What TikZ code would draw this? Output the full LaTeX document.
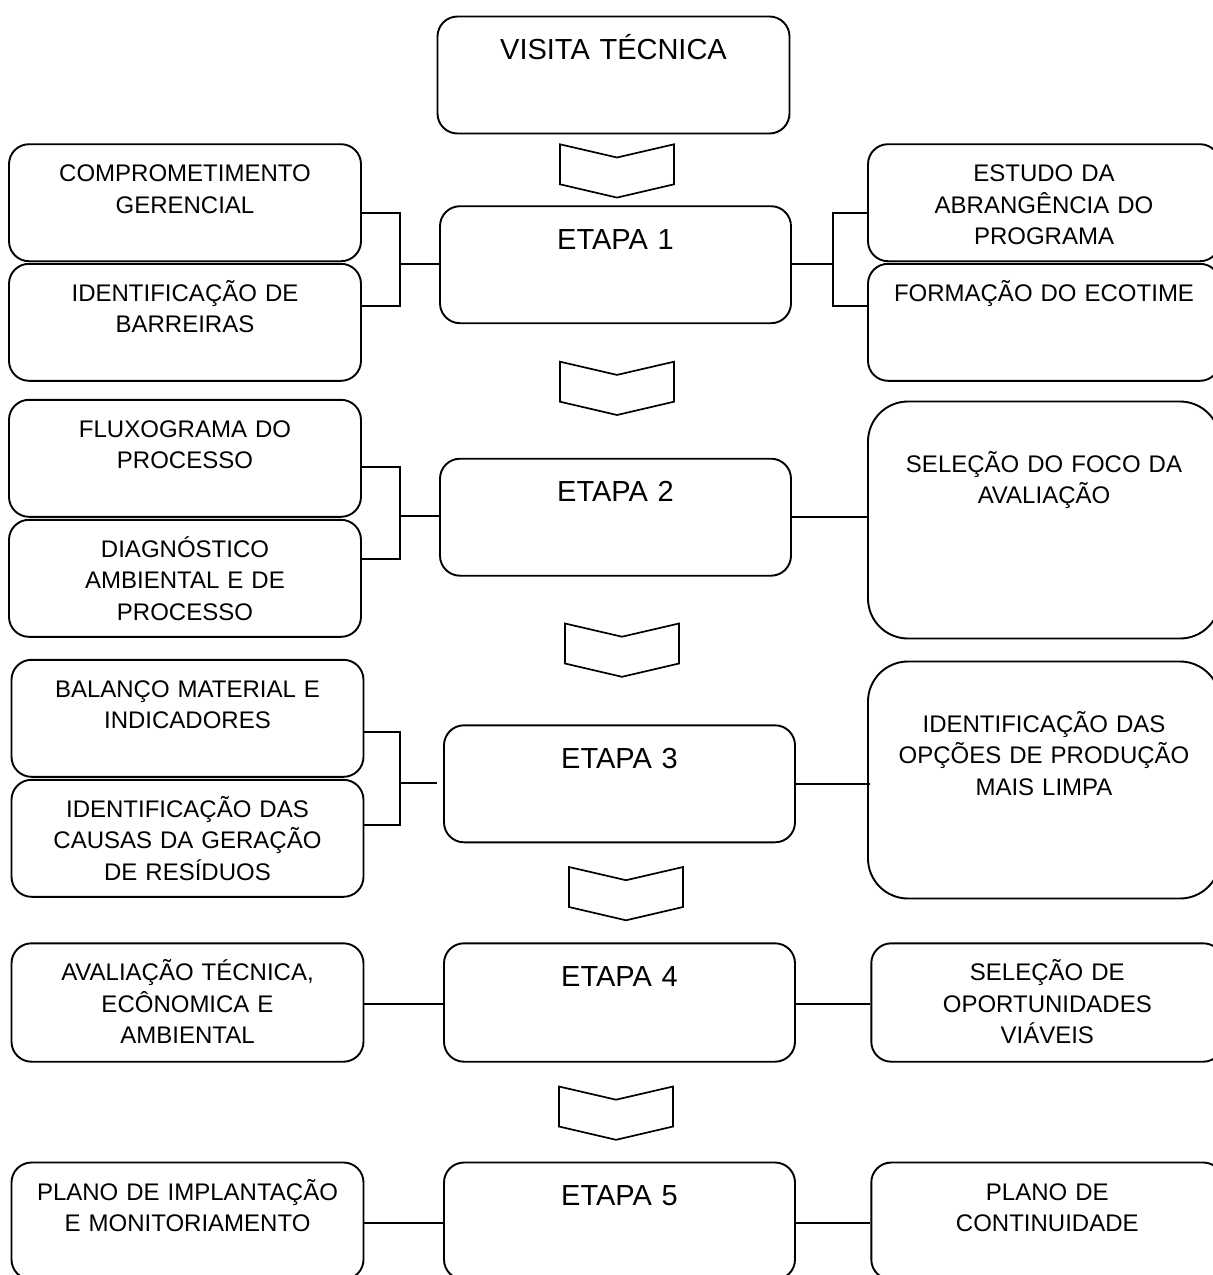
\documentclass[tikz,border=0pt]{standalone}
\usepackage{fontspec}
\setmainfont{Liberation Sans}
\usetikzlibrary{calc}

\begin{document}
\begin{tikzpicture}[x=1pt, y=-1pt,
    caixa/.style={draw, line width=1.9pt, rounded corners=20pt, inner sep=0pt,
                  minimum width=352pt, minimum height=117pt},
    alta/.style={caixa, rounded corners=40pt, minimum height=237pt},
    txt/.style={font=\fontsize{24}{31.3}\selectfont, text width=340pt, align=center,
                anchor=base, inner sep=0pt},
    titulo/.style={txt, font=\fontsize{29}{34}\selectfont},
    liga/.style={line width=1.9pt},
    seta/.style={draw, line width=1.7pt, line join=miter}
  ]
  \useasboundingbox (0,0) rectangle (1213,1275);
  \clip (0,0) rectangle (1213,1275);

  % visita tecnica
  \node[caixa] (vt) at (613.5,75) {};
  \node[titulo] (vtt) at ([yshift=-44pt]vt.north) {VISITA TÉCNICA};

  % etapas
  \node[caixa, minimum width=351pt] (et1) at (615.5,264.7) {};
  \node[caixa, minimum width=351pt] (et2) at (615.5,517.2) {};
  \node[caixa, minimum width=351pt] (et3) at (619.5,783.8) {};
  \node[caixa, minimum width=351pt, minimum height=118.4pt] (et4) at (619.5,1002.5) {};
  \node[caixa, minimum width=351pt] (et5) at (619.5,1221) {};
  \foreach \n in {1,...,5}
    \node[titulo] (et\n t) at ([yshift=-44pt]et\n.north) {ETAPA \n};

  % lado esquerdo
  \node[caixa] (esq1a) at (185,202.7) {};
  \node[caixa] (esq1b) at (185,322.3) {};
  \node[caixa] (esq2a) at (185,458.3) {};
  \node[caixa] (esq2b) at (185,578.3) {};
  \node[caixa] (esq3a) at (187.5,718.3) {};
  \node[caixa] (esq3b) at (187.5,838.3) {};
  \node[caixa, minimum height=118.4pt] (esq4) at (187.5,1002.5) {};
  \node[caixa] (esq5) at (187.5,1221) {};
  \node[txt] (esq1at) at ([yshift=-38.6pt]esq1a.north) {COMPROMETIMENTO\\GERENCIAL};
  \node[txt] (esq1bt) at ([yshift=-38.6pt]esq1b.north) {IDENTIFICAÇÃO DE\\BARREIRAS};
  \node[txt] (esq2at) at ([yshift=-38.6pt]esq2a.north) {FLUXOGRAMA DO\\PROCESSO};
  \node[txt] (esq2bt) at ([yshift=-38.6pt]esq2b.north) {DIAGNÓSTICO\\AMBIENTAL E DE\\PROCESSO};
  \node[txt] (esq3at) at ([yshift=-38.6pt]esq3a.north) {BALANÇO MATERIAL E\\INDICADORES};
  \node[txt] (esq3bt) at ([yshift=-38.6pt]esq3b.north) {IDENTIFICAÇÃO DAS\\CAUSAS DA GERAÇÃO\\DE RESÍDUOS};
  \node[txt] (esq4t) at ([yshift=-38.6pt]esq4.north) {AVALIAÇÃO TÉCNICA,\\ECÔNOMICA E\\AMBIENTAL};
  \node[txt] (esq5t) at ([yshift=-38.6pt]esq5.north) {PLANO DE IMPLANTAÇÃO\\E MONITORIAMENTO};

  % lado direito
  \node[caixa] (dir1a) at (1044,202.7) {};
  \node[caixa] (dir1b) at (1044,322.3) {};
  \node[alta] (dir2) at (1044,520) {};
  \node[alta] (dir3) at (1044,780) {};
  \node[caixa, minimum height=118.4pt] (dir4) at (1047.3,1002.5) {};
  \node[caixa] (dir5) at (1047.3,1221) {};
  \node[txt] (dir1at) at ([yshift=-38.6pt]dir1a.north) {ESTUDO DA\\ABRANGÊNCIA DO\\PROGRAMA};
  \node[txt] (dir1bt) at ([yshift=-38.6pt]dir1b.north) {FORMAÇÃO DO ECOTIME};
  \node[txt] (dir2t) at ([yshift=-72pt]dir2.north) {SELEÇÃO DO FOCO DA\\AVALIAÇÃO};
  \node[txt] (dir3t) at ([yshift=-72pt]dir3.north) {IDENTIFICAÇÃO DAS\\OPÇÕES DE PRODUÇÃO\\MAIS LIMPA};
  \node[txt] (dir4t) at ([yshift=-38.6pt]dir4.north) {SELEÇÃO DE\\OPORTUNIDADES\\VIÁVEIS};
  \node[txt] (dir5t) at ([yshift=-38.6pt]dir5.north) {PLANO DE\\CONTINUIDADE};

  % setas entre etapas
  \foreach \x/\y in {560/144.3, 560/361.7, 565/623.5, 569/867, 559/1086.5}
    \draw[seta] (\x,\y) -- ++(57,13.2) -- ++(57,-13.2) -- ++(0,40)
                -- ++(-57,13.3) -- ++(-57,-13.3) -- cycle;

  % ligacoes etapa 1
  \coordinate (b1) at (400,264.3);
  \coordinate (c1) at (833,264.3);
  \draw[liga] ([yshift=-10.6pt]esq1a.east) -| (b1) |- ([yshift=16.3pt]esq1b.east);
  \draw[liga] (b1) -- (b1 -| et1.west);
  \draw[liga] ([yshift=-10.6pt]dir1a.west) -| (c1) |- ([yshift=16.3pt]dir1b.west);
  \draw[liga] (c1) -- (c1 -| et1.east);

  % ligacoes etapa 2
  \coordinate (b2) at (400,516.3);
  \draw[liga] ([yshift=-8.4pt]esq2a.east) -| (b2) |- ([yshift=19.3pt]esq2b.east);
  \draw[liga] (b2) -- (b2 -| et2.west);
  \draw[liga] (et2.east) -- (et2.east -| dir2.west);

  % ligacoes etapa 3
  \coordinate (b3) at (400,783.3);
  \draw[liga] ([yshift=-14pt]esq3a.east) -| (b3) |- ([yshift=13.3pt]esq3b.east);
  \draw[liga] (b3) -- ([xshift=-6pt]b3 -| et3.west);
  \draw[liga] ([xshift=-2pt]et3.east) -- ([xshift=2.5pt]et3.east -| dir3.west);

  % ligacoes etapas 4 e 5
  \draw[liga] ([yshift=-1.8pt]esq4.east) -- ([yshift=-1.8pt]et4.west);
  \draw[liga] ([yshift=-1.8pt]et4.east) -- ([yshift=-1.8pt]dir4.west);
  \draw[liga] ([yshift=-2pt]esq5.east) -- ([yshift=-2pt]et5.west);
  \draw[liga] ([yshift=-2pt]et5.east) -- ([yshift=-2pt]dir5.west);
\end{tikzpicture}
\end{document}
